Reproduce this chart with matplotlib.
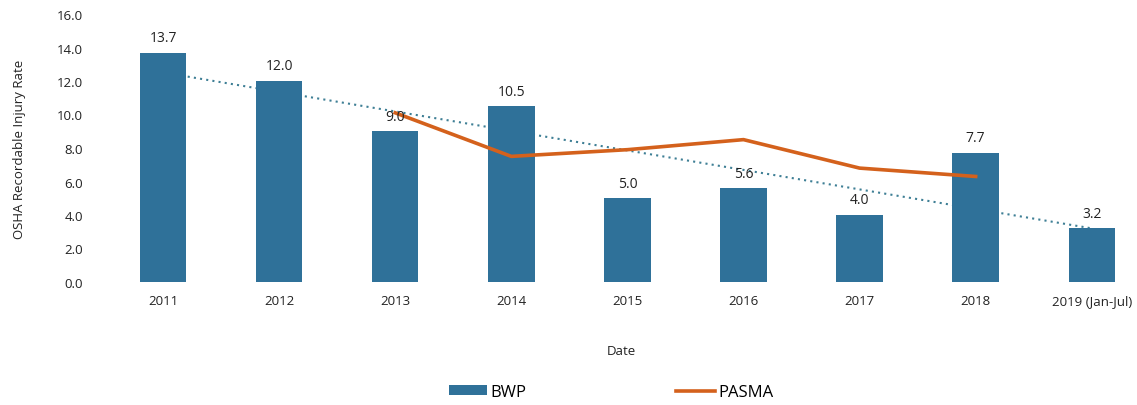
import numpy as np
import matplotlib.pyplot as plt

years = ['2011', '2012', '2013', '2014', '2015', '2016', '2017', '2018', '2019 (Jan-Jul)']
bwp = [13.7, 12.0, 9.0, 10.5, 5.0, 5.6, 4.0, 7.7, 3.2]
pasma_years = ['2013', '2014', '2015', '2016', '2017', '2018']
pasma = [10.1, 7.5, 7.9, 8.5, 6.8, 6.3]

plt.rcParams['font.family'] = ['Open Sans', 'DejaVu Sans']

fig = plt.figure(figsize=(11.37, 4.06), dpi=100)
ax = fig.add_axes([105 / 1137, 123 / 406, 1032 / 1137, 268 / 406])

x = np.arange(len(years))
bars = ax.bar(x, bwp, width=0.4, color='#2f7199', label='BWP', zorder=3)
for xi, v in zip(x, bwp):
    ax.text(xi, v + 0.45, '%.1f' % v, ha='center', va='bottom', fontsize=10, color='#222222', zorder=5)

# линейный тренд по BWP
k, b = np.polyfit(x, bwp, 1)
ax.plot(x, k * x + b, linestyle=(0, (1, 2)), color='#3e7f95', linewidth=1.5, zorder=2)

px = [years.index(y) for y in pasma_years]
pl, = ax.plot(px, pasma, color='#d4611c', linewidth=2.6, label='PASMA', zorder=4)

ax.set_xlim(-0.5, 8.39)
ax.set_ylim(0, 16)
ax.set_yticks(np.arange(0, 16.1, 2))
ax.set_yticklabels(['%.1f' % t for t in np.arange(0, 16.1, 2)])
ax.set_xticks(x)
ax.set_xticklabels(years)
ax.tick_params(length=0, labelsize=9.5, colors='#222222')
ax.tick_params(axis='x', pad=9)
ax.tick_params(axis='y', pad=16)
for s in ax.spines.values():
    s.set_visible(False)
ax.set_ylabel('OSHA Recordable Injury Rate', fontsize=9.5, color='#222222', labelpad=22)
ax.set_xlabel('Date', fontsize=9.5, color='#222222', labelpad=26)

fig.legend(handles=[bars, pl], labels=['BWP', 'PASMA'], loc='center',
           bbox_to_anchor=(611 / 1137, 1 - 393 / 406), ncol=2, frameon=False,
           fontsize=12, columnspacing=9, handlelength=2.3, handleheight=0.55,
           handletextpad=0.2)

fig.savefig('out.png', dpi=100)
